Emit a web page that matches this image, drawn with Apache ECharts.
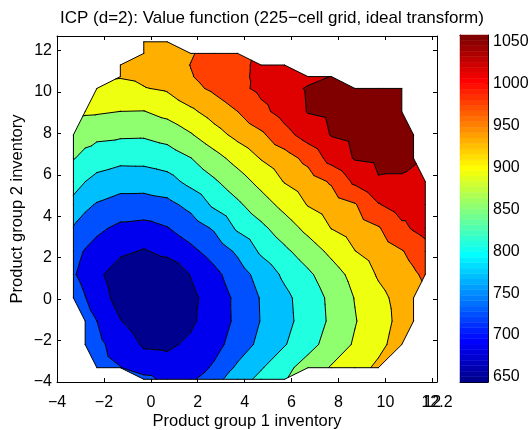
<!DOCTYPE html>
<html><head><meta charset="utf-8">
<script src="https://cdn.jsdelivr.net/npm/echarts@6/dist/echarts.min.js"></script>
<style>html,body{margin:0;padding:0;background:#fff}#c{width:532px;height:430px}</style>
</head><body><div id="c"></div>
<script>
// ---- data ----
const TITLE = 'ICP (d=2): Value function (225\u2212cell grid, ideal transform)';
const X_NAME = 'Product group 1 inventory';
const Y_NAME = 'Product group 2 inventory';
// grid node coordinates
const X = [-3.3,-2.8,-2.3,-1.3,-0.3,0.7,1.7,2.7,3.7,4.7,5.7,6.7,7.7,8.7,9.7,10.7,11.2,11.7];
const Y = [-3.87,-3.31,-2.19,-1.06,0.06,1.19,2.31,3.43,4.56,5.68,6.80,7.93,9.05,10.17,10.74,11.30,11.86,12.42];
const n = null;
// value function at the nodes (rows follow Y, columns follow X); null = outside the region
const Z = [
 [n,n,n,n,740,716,719,754,790,821,848,n,n,n,n,n,n,n],
 [n,n,745,728,705,700,708,732,776,806,839,869,896,919,941,n,n,n],
 [n,750,738,707,681,679,692,714,744,780,807,837,868,897,924,951,n,n],
 [n,742,727,687,665,663,679,705,735,770,798,827,858,890,918,945,957,n],
 [744,728,709,668,652,650,676,704,736,771,800,829,860,894,923,947,958,n],
 [730,716,696,660,650,655,687,716,749,784,817,844,874,906,938,959,970,982],
 [740,724,712,694,682,696,717,743,775,816,843,871,902,933,953,973,986,1000],
 [765,750,735,718,714,725,747,773,816,842,872,904,935,953,972,1007,1021,1032],
 [798,777,765,752,751,757,780,817,844,874,905,936,954,972,1014,1037,1038,1038],
 [826,810,797,786,786,795,821,846,874,905,936,956,980,1025,1055,1055,1050,1045],
 [853,841,830,821,822,830,850,878,907,936,958,987,1032,1061,1066,1064,1062,n],
 [868,864,860,857,856,866,889,918,945,968,1003,1034,1060,1068,1072,1069,1066,n],
 [n,898,897,892,891,905,926,951,975,1006,1032,1060,1066,1072,1073,1069,n,n],
 [n,n,925,922,932,939,964,983,1006,1026,1042,1062,1063,1066,1068,1063,n,n],
 [n,n,n,936,941,952,973,991,1008,1025,1035,1046,1059,n,n,n,n,n],
 [n,n,n,940,948,958,976,992,1008,1024,1036,n,n,n,n,n,n,n],
 [n,n,n,n,947,958,972,990,1006,n,n,n,n,n,n,n,n,n],
 [n,n,n,n,950,961,n,n,n,n,n,n,n,n,n,n,n,n]
];
// contour levels and colour limits
const LEVELS = [644,685.4,726.8,768.2,809.6,851,892.4,933.8,975.2,1016.6,1058];
const CB_MIN = 644, CB_MAX = 1058;
const CB_TICKS = [650,700,750,800,850,900,950,1000,1050];
const X_TICKS = [-4,-2,0,2,4,6,8,10,12];
const X_END_LABEL = [12.2];
const Y_TICKS = [-4,-2,0,2,4,6,8,10,12];

// ---- jet colormap (64 entries, MATLAB) ----
function jet(k){
  const r = k<25?0 : k<=40?(k-24)/16 : k<=56?1 : (72-k)/16;
  const g = k<9?0 : k<=24?(k-8)/16 : k<=40?1 : k<=55?(56-k)/16 : 0;
  const b = k<=8?(k+8)/16 : k<=24?1 : k<=39?(40-k)/16 : 0;
  const h = v => Math.round(Math.max(0,Math.min(1,v))*255);
  return 'rgb('+h(r)+','+h(g)+','+h(b)+')';
}
function levelColor(v){
  let idx = Math.floor((v-CB_MIN)/(CB_MAX-CB_MIN)*64)+1;
  idx = Math.max(1, Math.min(64, idx));
  return jet(idx);
}

// ---- triangulate grid ----
const tris = [];
const edgeCount = {};
function node(i,j){ return {x:X[i], y:Y[j], v:Z[j][i], key:i+','+j}; }
for (let j=0;j<Y.length-1;j++){
  for (let i=0;i<X.length-1;i++){
    const cand = [node(i,j),node(i+1,j),node(i+1,j+1),node(i,j+1)];
    const ok = cand.filter(p=>p.v!==null);
    if (ok.length===4){ tris.push([cand[0],cand[1],cand[2]]); tris.push([cand[0],cand[2],cand[3]]); }
    else if (ok.length===3){ tris.push(ok); }
  }
}
tris.forEach(t=>{
  for (let e=0;e<3;e++){
    const a=t[e], b=t[(e+1)%3];
    const k = a.key<b.key ? a.key+'|'+b.key : b.key+'|'+a.key;
    if (!edgeCount[k]) edgeCount[k]={a,b,c:0};
    edgeCount[k].c++;
  }
});
const boundary = Object.values(edgeCount).filter(e=>e.c===1);

function clip(poly, t, above){
  const out=[];
  for (let k=0;k<poly.length;k++){
    const P=poly[k], Q=poly[(k+1)%poly.length];
    const pin = above ? P.v>=t : P.v<=t;
    const qin = above ? Q.v>=t : Q.v<=t;
    if (pin) out.push(P);
    if (pin!==qin){
      const s=(t-P.v)/(Q.v-P.v);
      out.push({x:P.x+s*(Q.x-P.x), y:P.y+s*(Q.y-P.y), v:t});
    }
  }
  return out;
}
const r2 = v => Math.round(v*100)/100;

const FONT = 'Liberation Sans, Arial, Helvetica, sans-serif';
const fmt = v => String(v).replace('-', '\u2212');

const chart = echarts.init(document.getElementById('c'), null, {renderer:'canvas'});
const axisLine = {show:true, onZero:false, lineStyle:{color:'#000', width:1}};
const label = {color:'#000', fontSize:16, fontFamily:FONT};
const nameStyle = {fontSize:16.5, color:'#000', fontFamily:FONT};

chart.setOption({
  animation:false,
  backgroundColor:'#fff',
  title:{text:TITLE, left:55, top:5, textStyle:{fontSize:17, fontWeight:'normal', color:'#000', fontFamily:FONT}},
  grid:[
    {left:57, right:95, top:36, bottom:48, containLabel:false, outerBoundsMode:'none'},
    {left:460, width:28, top:35, bottom:48, containLabel:false, outerBoundsMode:'none'}
  ],
  xAxis:[
    {gridIndex:0, type:'value', min:-4, max:12.2, position:'bottom', axisLine,
     axisTick:{inside:true, length:4, customValues:X_TICKS, lineStyle:{color:'#000'}},
     axisLabel:Object.assign({margin:13, customValues:X_TICKS, formatter:fmt}, label),
     splitLine:{show:false},
     name:X_NAME, nameLocation:'middle', nameGap:31, nameMoveOverlap:false, nameTextStyle:nameStyle},
    {gridIndex:0, type:'value', min:-4, max:12.2, position:'top', axisLine,
     axisTick:{inside:true, length:4, customValues:X_TICKS, lineStyle:{color:'#000'}},
     axisLabel:{show:false}, splitLine:{show:false}},
    {gridIndex:1, type:'value', min:0, max:1, position:'bottom', axisLine, axisTick:{show:false}, axisLabel:{show:false}, splitLine:{show:false}},
    {gridIndex:1, type:'value', min:0, max:1, position:'top', axisLine, axisTick:{show:false}, axisLabel:{show:false}, splitLine:{show:false}},
    {gridIndex:0, type:'value', min:-4, max:12.2, position:'bottom', axisLine:{show:false}, axisTick:{show:false},
     axisLabel:Object.assign({margin:13, customValues:X_END_LABEL, formatter:fmt}, label), splitLine:{show:false}}
  ],
  yAxis:[
    {gridIndex:0, type:'value', min:-4, max:12.7, position:'left', axisLine,
     axisTick:{inside:true, length:4, customValues:Y_TICKS, lineStyle:{color:'#000'}},
     axisLabel:Object.assign({margin:5, customValues:Y_TICKS, formatter:fmt}, label),
     splitLine:{show:false},
     name:Y_NAME, nameLocation:'middle', nameGap:31, nameMoveOverlap:false, nameRotate:90, nameTextStyle:nameStyle},
    {gridIndex:0, type:'value', min:-4, max:12.7, position:'right', axisLine,
     axisTick:{inside:true, length:4, customValues:Y_TICKS, lineStyle:{color:'#000'}},
     axisLabel:{show:false}, splitLine:{show:false}},
    {gridIndex:1, type:'value', min:CB_MIN, max:CB_MAX, position:'right', axisLine,
     axisTick:{inside:true, length:3, customValues:CB_TICKS, lineStyle:{color:'#000'}},
     axisLabel:Object.assign({margin:5, customValues:CB_TICKS, formatter:v=>String(v)}, label), splitLine:{show:false}},
    {gridIndex:1, type:'value', min:CB_MIN, max:CB_MAX, position:'left', axisLine, axisTick:{show:false}, axisLabel:{show:false}, splitLine:{show:false}}
  ],
  series:[
    { // filled bands: one compound path per band
      type:'custom', xAxisIndex:0, yAxisIndex:0, silent:true, clip:true, z:2,
      dimensions:['x','y','k'], encode:{x:0,y:1},
      data: LEVELS.map((L,k)=>[0,0,k]),
      renderItem:(params, api)=>{
        const k = api.value(2);
        let d = '';
        tris.forEach(t=>{
          let poly = clip(t, LEVELS[k], true);
          if (k+1<LEVELS.length) poly = clip(poly, LEVELS[k+1], false);
          if (poly.length<3) return;
          poly.forEach((p,m)=>{ const c=api.coord([p.x,p.y]); d += (m?'L':'M')+r2(c[0])+' '+r2(c[1]); });
          d += 'Z';
        });
        if (!d) return null;
        return {type:'path', shape:{pathData:d}, style:{fill:levelColor(LEVELS[k]), stroke:null}};
      }
    },
    { // contour lines: one path per level
      type:'custom', xAxisIndex:0, yAxisIndex:0, silent:true, clip:true, z:3,
      dimensions:['x','y','k'], encode:{x:0,y:1},
      data: LEVELS.map((L,k)=>[0,0,k]),
      renderItem:(params, api)=>{
        const L = LEVELS[api.value(2)];
        let d='';
        tris.forEach(t=>{
          const pts=[];
          for (let e=0;e<3;e++){
            const P=t[e], Q=t[(e+1)%3];
            if ((P.v>=L)!==(Q.v>=L)){
              const s=(L-P.v)/(Q.v-P.v);
              pts.push(api.coord([P.x+s*(Q.x-P.x), P.y+s*(Q.y-P.y)]));
            }
          }
          if (pts.length===2) d += 'M'+r2(pts[0][0])+' '+r2(pts[0][1])+'L'+r2(pts[1][0])+' '+r2(pts[1][1]);
        });
        if (!d) return null;
        return {type:'path', shape:{pathData:d}, style:{fill:null, stroke:'#000', lineWidth:1, lineCap:'round', lineJoin:'round'}};
      }
    },
    { // region outline
      type:'custom', xAxisIndex:0, yAxisIndex:0, silent:true, clip:true, z:4,
      dimensions:['x','y','x1','y1','x2','y2'], encode:{x:0,y:1},
      data: boundary.map(e=>[(e.a.x+e.b.x)/2,(e.a.y+e.b.y)/2,e.a.x,e.a.y,e.b.x,e.b.y]),
      renderItem:(params, api)=>{
        const p1=api.coord([api.value(2),api.value(3)]), p2=api.coord([api.value(4),api.value(5)]);
        return {type:'line', shape:{x1:p1[0],y1:p1[1],x2:p2[0],y2:p2[1]}, style:{stroke:'#000', lineWidth:1, lineCap:'round'}};
      }
    },
    { // colorbar
      type:'custom', xAxisIndex:2, yAxisIndex:2, silent:true,
      dimensions:['x','y','k'], encode:{x:0,y:1},
      data: Array.from({length:64},(_,i)=>[0.5, CB_MIN+(i+0.5)*(CB_MAX-CB_MIN)/64, i+1]),
      renderItem:(params, api)=>{
        const k=api.value(2), step=(CB_MAX-CB_MIN)/64;
        const p1=api.coord([0, CB_MIN+k*step]), p2=api.coord([1, CB_MIN+(k-1)*step]);
        const col=jet(k);
        return {type:'rect', shape:{x:p1[0], y:p1[1], width:p2[0]-p1[0], height:p2[1]-p1[1]}, style:{fill:col, stroke:col, lineWidth:0.5}};
      }
    }
  ]
});
</script></body></html>
